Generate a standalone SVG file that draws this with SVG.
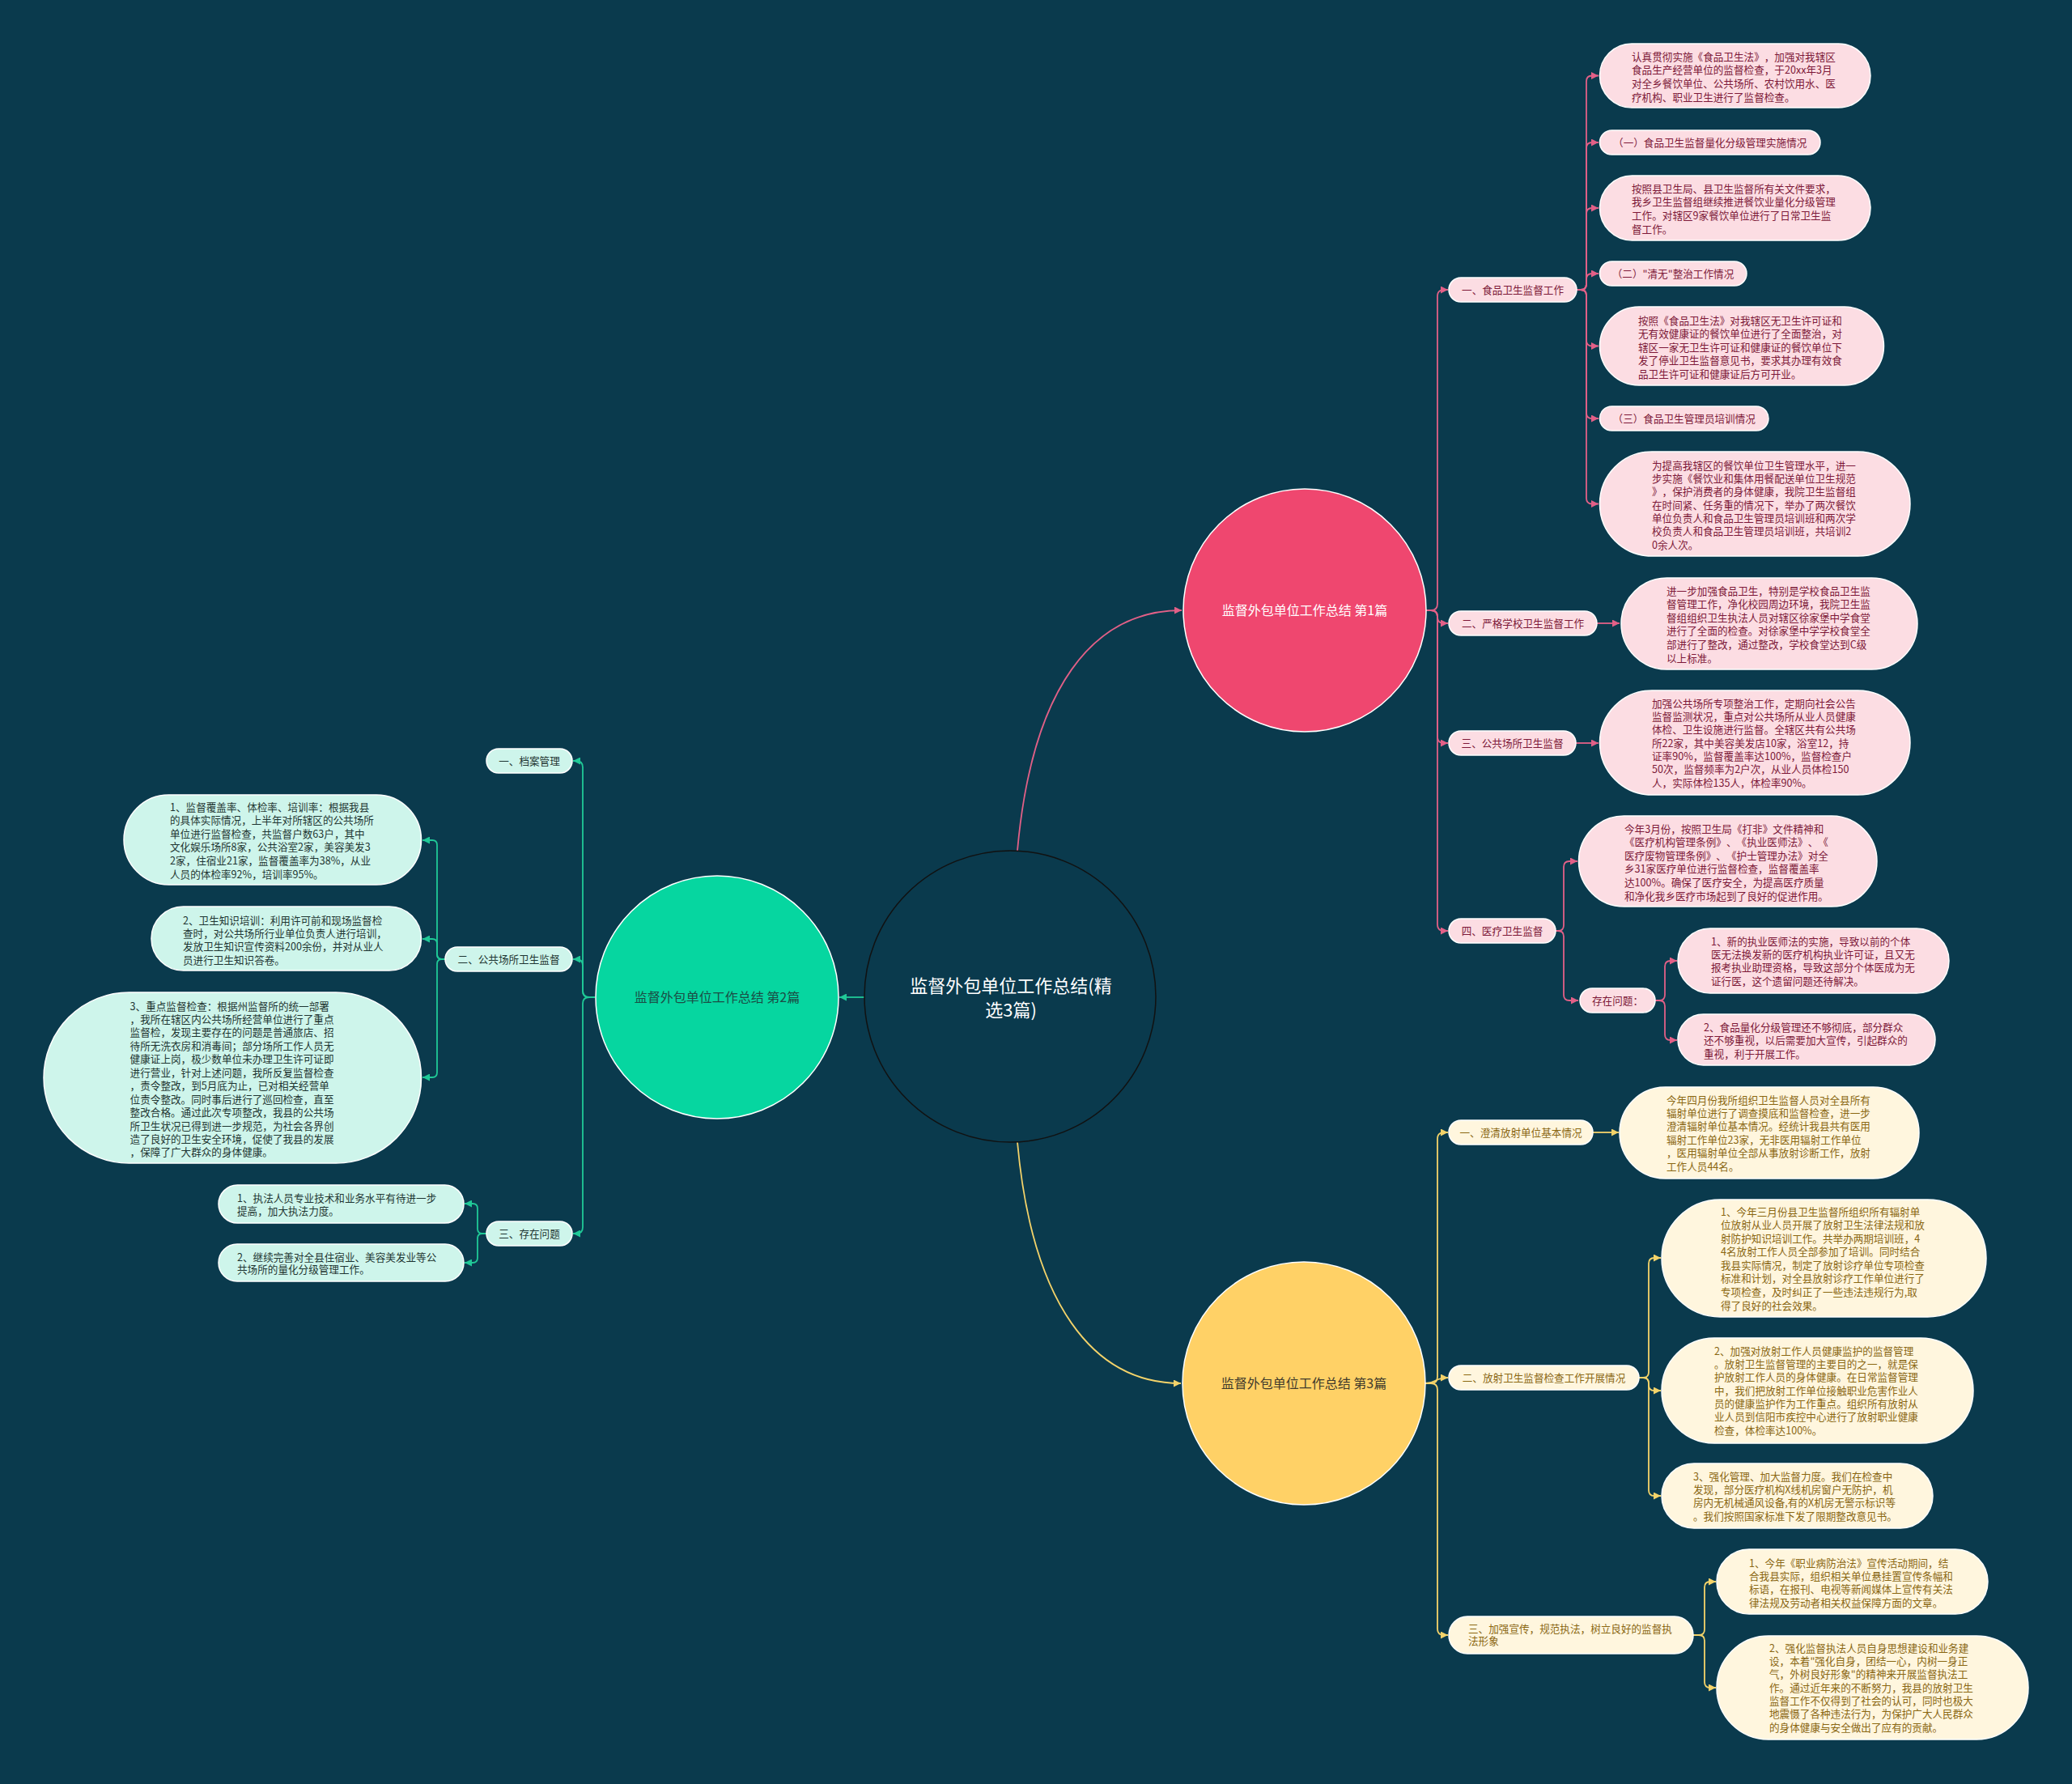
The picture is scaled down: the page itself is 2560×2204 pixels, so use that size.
<svg xmlns="http://www.w3.org/2000/svg" width="2560" height="2204" viewBox="0 0 2560 2204">
<defs>
<style>
text{font-family:"Noto Sans CJK SC","Noto Sans",sans-serif;font-size:12.6px;text-spacing-trim:space-all}
.pk rect{fill:#fcdde3;stroke:#ffffff;stroke-width:1.5}
.pk text{fill:#7d1838}
.yl rect{fill:#fff6de;stroke:#ffffff;stroke-width:1.5}
.yl text{fill:#8a6712}
.gr rect{fill:#cef5eb;stroke:#ffffff;stroke-width:1.5}
.gr text{fill:#1e3532}
.mid{text-anchor:middle}
.cp{fill:none;stroke:#e26087;stroke-width:1.8}
.cy{fill:none;stroke:#f4d36a;stroke-width:1.8}
.cg{fill:none;stroke:#20c997;stroke-width:1.8}
</style>
<marker id="ap" viewBox="0 0 10 10" refX="10" refY="5" markerWidth="9" markerHeight="9" markerUnits="userSpaceOnUse" orient="auto"><path d="M0,0 L10,5 L0,10 z" fill="#e26087"/></marker>
<marker id="ay" viewBox="0 0 10 10" refX="10" refY="5" markerWidth="9" markerHeight="9" markerUnits="userSpaceOnUse" orient="auto"><path d="M0,0 L10,5 L0,10 z" fill="#f4d36a"/></marker>
<marker id="ag" viewBox="0 0 10 10" refX="10" refY="5" markerWidth="9" markerHeight="9" markerUnits="userSpaceOnUse" orient="auto"><path d="M0,0 L10,5 L0,10 z" fill="#20c997"/></marker>
</defs>
<rect x="0" y="0" width="2560" height="2204" fill="#0a3a4d"/>

<g id="connectors">
<path class="cp" marker-end="url(#ap)" d="M1257 1051 C1275 850 1350 754 1460 754"/>
<path class="cy" marker-end="url(#ay)" d="M1257 1411 C1275 1610 1350 1709 1459 1709"/>
<path class="cg" marker-end="url(#ag)" d="M1068 1232 H1037"/>

<path class="cp" marker-end="url(#ap)" d="M1762 754 H1768 Q1776 754 1776 746 V366 Q1776 358 1784 358 H1789"/>
<path class="cp" marker-end="url(#ap)" d="M1762 754 H1768 Q1776 754 1776 762 Q1776 770 1784 770 H1789"/>
<path class="cp" marker-end="url(#ap)" d="M1762 754 H1768 Q1776 754 1776 762 V910 Q1776 918 1784 918 H1789"/>
<path class="cp" marker-end="url(#ap)" d="M1762 754 H1768 Q1776 754 1776 762 V1142 Q1776 1150 1784 1150 H1789"/>

<path class="cp" marker-end="url(#ap)" d="M1948 358 H1953 Q1960 358 1960 351 V100.5 Q1960 93.5 1967 93.5 H1975"/>
<path class="cp" marker-end="url(#ap)" d="M1948 358 H1953 Q1960 358 1960 351 V183 Q1960 176 1967 176 H1975"/>
<path class="cp" marker-end="url(#ap)" d="M1948 358 H1953 Q1960 358 1960 351 V264 Q1960 257 1967 257 H1975"/>
<path class="cp" marker-end="url(#ap)" d="M1948 358 H1953 Q1960 358 1960 351 V345 Q1960 338 1967 338 H1975"/>
<path class="cp" marker-end="url(#ap)" d="M1948 358 H1953 Q1960 358 1960 365 V420.5 Q1960 427.5 1967 427.5 H1975"/>
<path class="cp" marker-end="url(#ap)" d="M1948 358 H1953 Q1960 358 1960 365 V510 Q1960 517 1967 517 H1975"/>
<path class="cp" marker-end="url(#ap)" d="M1948 358 H1953 Q1960 358 1960 365 V615.5 Q1960 622.5 1967 622.5 H1975"/>

<path class="cp" marker-end="url(#ap)" d="M1973 770 H2001"/>
<path class="cp" marker-end="url(#ap)" d="M1947 918 H1975"/>

<path class="cp" marker-end="url(#ap)" d="M1922 1150 H1925 Q1932 1150 1932 1143 V1071 Q1932 1064 1939 1064 H1949"/>
<path class="cp" marker-end="url(#ap)" d="M1922 1150 H1925 Q1932 1150 1932 1157 V1229 Q1932 1236 1939 1236 H1950"/>
<path class="cp" marker-end="url(#ap)" d="M2045 1236 H2050 Q2057 1236 2057 1229 V1194 Q2057 1187 2064 1187 H2072"/>
<path class="cp" marker-end="url(#ap)" d="M2045 1236 H2050 Q2057 1236 2057 1243 V1278 Q2057 1285 2064 1285 H2072"/>

<path class="cy" marker-end="url(#ay)" d="M1761 1709 H1768 Q1776 1709 1776 1701 V1407 Q1776 1399 1784 1399 H1789"/>
<path class="cy" marker-end="url(#ay)" d="M1761 1709 C1775 1709 1772 1702 1789 1702"/>
<path class="cy" marker-end="url(#ay)" d="M1761 1709 H1768 Q1776 1709 1776 1717 V2012 Q1776 2020 1784 2020 H1789"/>
<path class="cy" marker-end="url(#ay)" d="M1968 1399 H2000"/>
<path class="cy" marker-end="url(#ay)" d="M2025 1702 H2030 Q2037 1702 2037 1695 V1561 Q2037 1554 2044 1554 H2052"/>
<path class="cy" marker-end="url(#ay)" d="M2025 1702 H2030 Q2037 1702 2037 1709 V1711 Q2037 1718 2044 1718 H2052"/>
<path class="cy" marker-end="url(#ay)" d="M2025 1702 H2030 Q2037 1702 2037 1709 V1841 Q2037 1848 2044 1848 H2052"/>
<path class="cy" marker-end="url(#ay)" d="M2092 2020 H2099 Q2106 2020 2106 2013 V1961 Q2106 1954 2113 1954 H2120"/>
<path class="cy" marker-end="url(#ay)" d="M2092 2020 H2099 Q2106 2020 2106 2027 V2078 Q2106 2085 2113 2085 H2120"/>

<path class="cg" marker-end="url(#ag)" d="M735 1232 H728 Q720 1232 720 1224 V948 Q720 940 712 940 H708"/>
<path class="cg" marker-end="url(#ag)" d="M735 1232 H728 Q720 1232 720 1224 V1193 Q720 1185 712 1185 H708"/>
<path class="cg" marker-end="url(#ag)" d="M735 1232 H728 Q720 1232 720 1240 V1516 Q720 1524 712 1524 H708"/>
<path class="cg" marker-end="url(#ag)" d="M550 1185 H546 Q540 1185 540 1179 V1044 Q540 1038 534 1038 H522"/>
<path class="cg" marker-end="url(#ag)" d="M550 1185 H546 Q540 1185 540 1179 V1166 Q540 1160 534 1160 H522"/>
<path class="cg" marker-end="url(#ag)" d="M550 1185 H546 Q540 1185 540 1191 V1325 Q540 1331 534 1331 H522"/>
<path class="cg" marker-end="url(#ag)" d="M601 1524 H596 Q590 1524 590 1518 V1493 Q590 1487 584 1487 H574"/>
<path class="cg" marker-end="url(#ag)" d="M601 1524 H596 Q590 1524 590 1530 V1554 Q590 1560 584 1560 H574"/>
</g>

<g id="root">
<circle cx="1248" cy="1231" r="180" fill="#0a3a4d" stroke="#111111" stroke-width="1.5"/>
<text class="mid" x="1249" y="1226" fill="#ffffff" style="font-size:22px">监督外包单位工作总结(精</text>
<text class="mid" x="1249" y="1256" fill="#ffffff" style="font-size:22px">选3篇)</text>
</g>

<g id="b1">
<circle cx="1612" cy="754" r="150" fill="#ef476f" stroke="#ffffff" stroke-width="1.5"/>
<text class="mid" x="1612" y="760" fill="#ffffff" style="font-size:16px">监督外包单位工作总结 第1篇</text>
</g>
<g id="b2">
<circle cx="886" cy="1232" r="150" fill="#06d6a0" stroke="#ffffff" stroke-width="1.5"/>
<text class="mid" x="886" y="1238" fill="#1b4d45" style="font-size:16px">监督外包单位工作总结 第2篇</text>
</g>
<g id="b3">
<circle cx="1611" cy="1709" r="150" fill="#ffd166" stroke="#ffffff" stroke-width="1.5"/>
<text class="mid" x="1611" y="1715" fill="#3f3a2c" style="font-size:16px">监督外包单位工作总结 第3篇</text>
</g>

<g id="p-l1" class="pk"><rect x="1790" y="343" width="158" height="30" rx="15"/><text class="mid" x="1869" y="362.5">一、食品卫生监督工作</text></g>
<g id="p-l2" class="pk"><rect x="1790" y="755" width="183" height="30" rx="15"/><text class="mid" x="1881.5" y="774.5">二、严格学校卫生监督工作</text></g>
<g id="p-l3" class="pk"><rect x="1790" y="903" width="157" height="30" rx="15"/><text class="mid" x="1868.5" y="922.5">三、公共场所卫生监督</text></g>
<g id="p-l4" class="pk"><rect x="1790" y="1135" width="132" height="30" rx="15"/><text class="mid" x="1856" y="1154.5">四、医疗卫生监督</text></g>
<g id="p-l5" class="pk"><rect x="1952" y="1221" width="93" height="30" rx="15"/><text class="mid" x="1998.5" y="1240.5">存在问题：</text></g>

<g id="p-n1" class="pk"><rect x="1976.5" y="54" width="334.5" height="79" rx="39.5"/><text><tspan x="2016" y="74.5">认真贯彻实施《食品卫生法》，加强对我辖区</tspan><tspan x="2016" y="91.2">食品生产经营单位的监督检查，于20xx年3月</tspan><tspan x="2016" y="107.9">对全乡餐饮单位、公共场所、农村饮用水、医</tspan><tspan x="2016" y="124.5">疗机构、职业卫生进行了监督检查。</tspan></text></g>
<g id="p-n2" class="pk"><rect x="1976.5" y="161" width="272.5" height="30" rx="15"/><text class="mid" x="2112.7" y="180.5">（一）食品卫生监督量化分级管理实施情况</text></g>
<g id="p-n3" class="pk"><rect x="1976.5" y="217" width="334.5" height="80" rx="40"/><text><tspan x="2016" y="237.5">按照县卫生局、县卫生监督所有关文件要求，</tspan><tspan x="2016" y="254.2">我乡卫生监督组继续推进餐饮业量化分级管理</tspan><tspan x="2016" y="270.9">工作。对辖区9家餐饮单位进行了日常卫生监</tspan><tspan x="2016" y="287.5">督工作。</tspan></text></g>
<g id="p-n4" class="pk"><rect x="1976.5" y="323" width="181.5" height="30" rx="15"/><text class="mid" x="2067" y="342.5">（二）"清无"整治工作情况</text></g>
<g id="p-n5" class="pk"><rect x="1976.5" y="379" width="351" height="97" rx="48.5"/><text><tspan x="2024" y="400.5">按照《食品卫生法》对我辖区无卫生许可证和</tspan><tspan x="2024" y="417.1">无有效健康证的餐饮单位进行了全面整治，对</tspan><tspan x="2024" y="433.7">辖区一家无卫生许可证和健康证的餐饮单位下</tspan><tspan x="2024" y="450.3">发了停业卫生监督意见书，要求其办理有效食</tspan><tspan x="2024" y="466.9">品卫生许可证和健康证后方可开业。</tspan></text></g>
<g id="p-n6" class="pk"><rect x="1976.5" y="502" width="208.5" height="30" rx="15"/><text class="mid" x="2080.7" y="521.5">（三）食品卫生管理员培训情况</text></g>
<g id="p-n7" class="pk"><rect x="1976.5" y="558" width="383.5" height="129" rx="64.5"/><text><tspan x="2041" y="579.5">为提高我辖区的餐饮单位卫生管理水平，进一</tspan><tspan x="2041" y="595.8">步实施《餐饮业和集体用餐配送单位卫生规范</tspan><tspan x="2041" y="612.2">》，保护消费者的身体健康，我院卫生监督组</tspan><tspan x="2041" y="628.5">在时间紧、任务重的情况下，举办了两次餐饮</tspan><tspan x="2041" y="644.8">单位负责人和食品卫生管理员培训班和两次学</tspan><tspan x="2041" y="661.2">校负责人和食品卫生管理员培训班，共培训2</tspan><tspan x="2041" y="677.5">0余人次。</tspan></text></g>
<g id="p-n8" class="pk"><rect x="2003" y="714" width="366" height="113" rx="56.5"/><text><tspan x="2059" y="734.5">进一步加强食品卫生，特别是学校食品卫生监</tspan><tspan x="2059" y="751.1">督管理工作，净化校园周边环境，我院卫生监</tspan><tspan x="2059" y="767.7">督组组织卫生执法人员对辖区徐家堡中学食堂</tspan><tspan x="2059" y="784.3">进行了全面的检查。对徐家堡中学学校食堂全</tspan><tspan x="2059" y="800.9">部进行了整改，通过整改，学校食堂达到C级</tspan><tspan x="2059" y="817.5">以上标准。</tspan></text></g>
<g id="p-n9" class="pk"><rect x="1976.5" y="853" width="383.5" height="129" rx="64.5"/><text><tspan x="2041" y="873.5">加强公共场所专项整治工作，定期向社会公告</tspan><tspan x="2041" y="889.8">监督监测状况，重点对公共场所从业人员健康</tspan><tspan x="2041" y="906.2">体检、卫生设施进行监督。全辖区共有公共场</tspan><tspan x="2041" y="922.5">所22家，其中美容美发店10家，浴室12，持</tspan><tspan x="2041" y="938.8">证率90%，监督覆盖率达100%，监督检查户</tspan><tspan x="2041" y="955.2">50次，监督频率为2户次，从业人员体检150</tspan><tspan x="2041" y="971.5">人，实际体检135人，体检率90%。</tspan></text></g>
<g id="p-n10" class="pk"><rect x="1950.5" y="1008" width="368.5" height="112" rx="56"/><text><tspan x="2007" y="1028.5">今年3月份，按照卫生局《打非》文件精神和</tspan><tspan x="2007" y="1045.1">《医疗机构管理条例》、《执业医师法》、《</tspan><tspan x="2007" y="1061.7">医疗废物管理条例》、《护士管理办法》对全</tspan><tspan x="2007" y="1078.3">乡31家医疗单位进行监督检查，监督覆盖率</tspan><tspan x="2007" y="1094.9">达100%。确保了医疗安全，为提高医疗质量</tspan><tspan x="2007" y="1111.5">和净化我乡医疗市场起到了良好的促进作用。</tspan></text></g>
<g id="p-n11" class="pk"><rect x="2073" y="1147" width="335" height="80" rx="40"/><text><tspan x="2114" y="1167.5">1、新的执业医师法的实施，导致以前的个体</tspan><tspan x="2114" y="1183.8">医无法换发新的医疗机构执业许可证，且又无</tspan><tspan x="2114" y="1200.2">报考执业助理资格，导致这部分个体医成为无</tspan><tspan x="2114" y="1216.5">证行医，这个遗留问题还待解决。</tspan></text></g>
<g id="p-n12" class="pk"><rect x="2073" y="1253" width="318" height="63" rx="31.5"/><text><tspan x="2105" y="1273.5">2、食品量化分级管理还不够彻底，部分群众</tspan><tspan x="2105" y="1290">还不够重视，以后需要加大宣传，引起群众的</tspan><tspan x="2105" y="1306.5">重视，利于开展工作。</tspan></text></g>

<g id="y-l1" class="yl"><rect x="1790" y="1384" width="178" height="30" rx="15"/><text class="mid" x="1879" y="1403.5">一、澄清放射单位基本情况</text></g>
<g id="y-l2" class="yl"><rect x="1790" y="1687" width="235" height="30" rx="15"/><text class="mid" x="1907.5" y="1706.5">二、放射卫生监督检查工作开展情况</text></g>
<g id="y-l3" class="yl"><rect x="1790" y="1997" width="302" height="46" rx="23"/><text><tspan x="1814" y="2017">三、加强宣传，规范执法，树立良好的监督执</tspan><tspan x="1814" y="2032">法形象</tspan></text></g>

<g id="y-n1" class="yl"><rect x="2001" y="1343" width="370" height="113" rx="56.5"/><text><tspan x="2059" y="1363.5">今年四月份我所组织卫生监督人员对全县所有</tspan><tspan x="2059" y="1379.9">辐射单位进行了调查摸底和监督检查，进一步</tspan><tspan x="2059" y="1396.3">澄清辐射单位基本情况。经统计我县共有医用</tspan><tspan x="2059" y="1412.7">辐射工作单位23家，无非医用辐射工作单位</tspan><tspan x="2059" y="1429.1">，医用辐射单位全部从事放射诊断工作，放射</tspan><tspan x="2059" y="1445.5">工作人员44名。</tspan></text></g>
<g id="y-n2" class="yl"><rect x="2053" y="1482" width="401" height="145" rx="72.5"/><text><tspan x="2126" y="1501.5">1、今年三月份县卫生监督所组织所有辐射单</tspan><tspan x="2126" y="1518.1">位放射从业人员开展了放射卫生法律法规和放</tspan><tspan x="2126" y="1534.6">射防护知识培训工作。共举办两期培训班，4</tspan><tspan x="2126" y="1551.2">4名放射工作人员全部参加了培训。同时结合</tspan><tspan x="2126" y="1567.8">我县实际情况，制定了放射诊疗单位专项检查</tspan><tspan x="2126" y="1584.4">标准和计划，对全县放射诊疗工作单位进行了</tspan><tspan x="2126" y="1600.9">专项检查，及时纠正了一些违法违规行为,取</tspan><tspan x="2126" y="1617.5">得了良好的社会效果。</tspan></text></g>
<g id="y-n3" class="yl"><rect x="2053" y="1653" width="385" height="130" rx="65"/><text><tspan x="2118" y="1673.5">2、加强对放射工作人员健康监护的监督管理</tspan><tspan x="2118" y="1689.8">。放射卫生监督管理的主要目的之一，就是保</tspan><tspan x="2118" y="1706.2">护放射工作人员的身体健康。在日常监督管理</tspan><tspan x="2118" y="1722.5">中，我们把放射工作单位接触职业危害作业人</tspan><tspan x="2118" y="1738.8">员的健康监护作为工作重点。组织所有放射从</tspan><tspan x="2118" y="1755.2">业人员到信阳市疾控中心进行了放射职业健康</tspan><tspan x="2118" y="1771.5">检查，体检率达100%。</tspan></text></g>
<g id="y-n4" class="yl"><rect x="2053" y="1808" width="335" height="80" rx="40"/><text><tspan x="2092" y="1828.5">3、强化管理、加大监督力度。我们在检查中</tspan><tspan x="2092" y="1844.8">发现，部分医疗机构X线机房窗户无防护，机</tspan><tspan x="2092" y="1861.2">房内无机械通风设备,有的X机房无警示标识等</tspan><tspan x="2092" y="1877.5">。我们按照国家标准下发了限期整改意见书。</tspan></text></g>
<g id="y-n5" class="yl"><rect x="2121" y="1914" width="335" height="80" rx="40"/><text><tspan x="2161" y="1935.5">1、今年《职业病防治法》宣传活动期间，结</tspan><tspan x="2161" y="1951.8">合我县实际，组织相关单位悬挂置宣传条幅和</tspan><tspan x="2161" y="1968.2">标语，在报刊、电视等新闻媒体上宣传有关法</tspan><tspan x="2161" y="1984.5">律法规及劳动者相关权益保障方面的文章。</tspan></text></g>
<g id="y-n6" class="yl"><rect x="2121" y="2021" width="385" height="128" rx="64"/><text><tspan x="2186" y="2040.5">2、强化监督执法人员自身思想建设和业务建</tspan><tspan x="2186" y="2056.8">设，本着"强化自身，团结一心，内树一身正</tspan><tspan x="2186" y="2073.2">气，外树良好形象"的精神来开展监督执法工</tspan><tspan x="2186" y="2089.5">作。通过近年来的不断努力，我县的放射卫生</tspan><tspan x="2186" y="2105.8">监督工作不仅得到了社会的认可，同时也极大</tspan><tspan x="2186" y="2122.2">地震慑了各种违法行为，为保护广大人民群众</tspan><tspan x="2186" y="2138.5">的身体健康与安全做出了应有的贡献。</tspan></text></g>

<g id="g-l1" class="gr"><rect x="601" y="925" width="106" height="30" rx="15"/><text class="mid" x="654" y="944.5">一、档案管理</text></g>
<g id="g-l2" class="gr"><rect x="550" y="1170" width="157" height="30" rx="15"/><text class="mid" x="628.5" y="1189.5">二、公共场所卫生监督</text></g>
<g id="g-l3" class="gr"><rect x="601" y="1509" width="106" height="30" rx="15"/><text class="mid" x="654" y="1528.5">三、存在问题</text></g>

<g id="g-n1" class="gr"><rect x="153" y="982" width="367.5" height="111" rx="55.5"/><text><tspan x="210" y="1001.5">1、监督覆盖率、体检率、培训率：根据我县</tspan><tspan x="210" y="1018.1">的具体实际情况，上半年对所辖区的公共场所</tspan><tspan x="210" y="1034.7">单位进行监督检查，共监督户数63户，其中</tspan><tspan x="210" y="1051.3">文化娱乐场所8家，公共浴室2家，美容美发3</tspan><tspan x="210" y="1067.9">2家，住宿业21家，监督覆盖率为38%，从业</tspan><tspan x="210" y="1084.5">人员的体检率92%，培训率95%。</tspan></text></g>
<g id="g-n2" class="gr"><rect x="187" y="1120" width="333.5" height="79" rx="39.5"/><text><tspan x="226" y="1141.5">2、卫生知识培训：利用许可前和现场监督检</tspan><tspan x="226" y="1157.8">查时，对公共场所行业单位负责人进行培训，</tspan><tspan x="226" y="1174.2">发放卫生知识宣传资料200余份，并对从业人</tspan><tspan x="226" y="1190.5">员进行卫生知识答卷。</tspan></text></g>
<g id="g-n3" class="gr"><rect x="54" y="1226" width="466.5" height="211" rx="105.5"/><text><tspan x="160.6" y="1247.5">3、重点监督检查：根据州监督所的统一部署</tspan><tspan x="160.6" y="1264">，我所在辖区内公共场所经营单位进行了重点</tspan><tspan x="160.6" y="1280.4">监督检，发现主要存在的问题是普通旅店、招</tspan><tspan x="160.6" y="1296.9">待所无洗衣房和消毒间；部分场所工作人员无</tspan><tspan x="160.6" y="1313.3">健康证上岗，极少数单位未办理卫生许可证即</tspan><tspan x="160.6" y="1329.8">进行营业，针对上述问题，我所反复监督检查</tspan><tspan x="160.6" y="1346.2">，责令整改，到5月底为止，已对相关经营单</tspan><tspan x="160.6" y="1362.6">位责令整改。同时事后进行了巡回检查，直至</tspan><tspan x="160.6" y="1379.1">整改合格。通过此次专项整改，我县的公共场</tspan><tspan x="160.6" y="1395.5">所卫生状况已得到进一步规范，为社会各界创</tspan><tspan x="160.6" y="1412">造了良好的卫生安全环境，促使了我县的发展</tspan><tspan x="160.6" y="1428.4">，保障了广大群众的身体健康。</tspan></text></g>
<g id="g-n4" class="gr"><rect x="270" y="1464" width="303" height="47" rx="23.5"/><text><tspan x="293" y="1484.5">1、执法人员专业技术和业务水平有待进一步</tspan><tspan x="293" y="1500.5">提高，加大执法力度。</tspan></text></g>
<g id="g-n5" class="gr"><rect x="270" y="1537" width="303" height="46" rx="23"/><text><tspan x="293" y="1557.5">2、继续完善对全县住宿业、美容美发业等公</tspan><tspan x="293" y="1573">共场所的量化分级管理工作。</tspan></text></g>
</svg>
